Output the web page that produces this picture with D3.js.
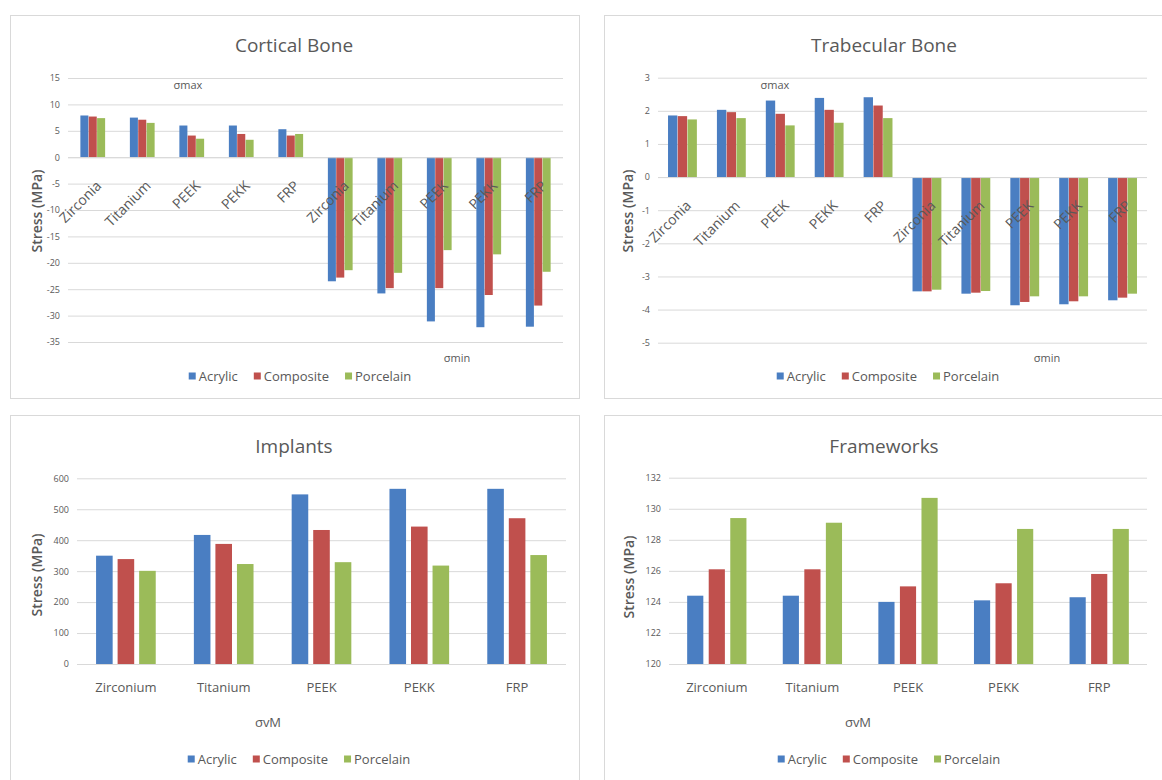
<!DOCTYPE html>
<html>
<head>
<meta charset="utf-8">
<script src="https://cdn.jsdelivr.net/npm/d3@7"></script>
<style>
  html, body { margin: 0; padding: 0; background: #ffffff; }
  svg { display: block; font-family: "Open Sans", "Liberation Sans", sans-serif; }
</style>
</head>
<body>
<svg id="chart" width="1162" height="780"></svg>
<script>
// Materials and restoration series
const seriesNames = ["Acrylic", "Composite", "Porcelain"];
const seriesColors = ["#4A7EC2", "#C0504D", "#9BBB59"];

const boneMaterials = ["Zirconia", "Titanium", "PEEK", "PEKK", "FRP"];
const boneCategories = [...boneMaterials, ...boneMaterials]; // σmax group then σmin group
const implantMaterials = ["Zirconium", "Titanium", "PEEK", "PEKK", "FRP"];

// Cortical bone stress (MPa): first five σmax, last five σmin
const corticalAcrylic   = [7.9, 7.5, 6.0, 6.0, 5.3, -23.5, -25.8, -31.1, -32.2, -32.1];
const corticalComposite = [7.7, 7.1, 4.1, 4.4, 4.1, -22.8, -24.8, -24.8, -26.1, -28.1];
const corticalPorcelain = [7.4, 6.5, 3.5, 3.3, 4.4, -21.4, -21.9, -17.6, -18.4, -21.7];
const corticalTicks = [15, 10, 5, 0, -5, -10, -15, -20, -25, -30, -35];

// Trabecular bone stress (MPa)
const trabecularAcrylic   = [1.86, 2.03, 2.31, 2.39, 2.41, -3.45, -3.52, -3.87, -3.84, -3.72];
const trabecularComposite = [1.84, 1.96, 1.91, 2.03, 2.16, -3.45, -3.49, -3.77, -3.75, -3.64];
const trabecularPorcelain = [1.74, 1.78, 1.56, 1.64, 1.78, -3.40, -3.44, -3.60, -3.60, -3.52];
const trabecularTicks = [3, 2, 1, 0, -1, -2, -3, -4, -5];

// Implant von Mises stress (MPa)
const implantsAcrylic   = [350, 417, 548, 566, 566];
const implantsComposite = [339, 388, 433, 444, 471];
const implantsPorcelain = [301, 323, 329, 318, 352];
const implantsTicks = [0, 100, 200, 300, 400, 500, 600];

// Framework von Mises stress (MPa)
const frameworksAcrylic   = [124.4, 124.4, 124.0, 124.1, 124.3];
const frameworksComposite = [126.1, 126.1, 125.0, 125.2, 125.8];
const frameworksPorcelain = [129.4, 129.1, 130.7, 128.7, 128.7];
const frameworksTicks = [120, 122, 124, 126, 128, 130, 132];

const svg = d3.select("#chart");
const textColor = "#595959";
const gridColor = "#d9d9d9";

function drawPanel(cfg) {
  const g = svg.append("g");

  // panel frame
  g.append("rect")
    .attr("x", cfg.frame[0] + 0.5).attr("y", cfg.frame[1] + 0.5)
    .attr("width", cfg.frame[2] - cfg.frame[0]).attr("height", cfg.frame[3] - cfg.frame[1])
    .attr("fill", "#fff").attr("stroke", gridColor).attr("stroke-width", 1);

  const y = d3.scaleLinear().domain(cfg.domain).range([cfg.plotBottom, cfg.plotTop]);
  const x0 = d3.scaleBand()
    .domain(d3.range(cfg.categories.length))
    .range([cfg.plotLeft, cfg.plotRight])
    .paddingInner(cfg.groupPad).paddingOuter(cfg.groupPad / 2);
  const x1 = d3.scaleBand()
    .domain(seriesNames)
    .range([0, x0.bandwidth()])
    .paddingInner(cfg.barPad);

  // gridlines and tick labels
  const yAxis = d3.axisLeft(y)
    .tickValues(cfg.ticks)
    .tickSize(-(cfg.plotRight - cfg.plotLeft))
    .tickPadding(8)
    .tickFormat(d => String(d));
  const ax = g.append("g")
    .attr("transform", `translate(${cfg.plotLeft},0)`)
    .call(yAxis);
  ax.select(".domain").remove();
  ax.selectAll(".tick line").attr("stroke", gridColor).attr("stroke-width", 1);
  ax.selectAll(".tick text")
    .attr("fill", textColor).attr("font-size", 9).attr("font-family", "Open Sans, sans-serif");

  // bars
  const base = cfg.baseline;
  cfg.series.forEach((vals, si) => {
    g.append("g").selectAll("rect")
      .data(vals)
      .join("rect")
      .attr("x", (d, i) => x0(i) + x1(seriesNames[si]))
      .attr("width", x1.bandwidth())
      .attr("y", d => Math.min(y(d), y(base)))
      .attr("height", d => Math.abs(y(d) - y(base)))
      .attr("fill", seriesColors[si]);
  });

  // category axis line
  g.append("line")
    .attr("x1", cfg.plotLeft).attr("x2", cfg.plotRight)
    .attr("y1", y(base) + 0.5).attr("y2", y(base) + 0.5)
    .attr("stroke", gridColor);

  // category labels
  const cl = g.append("g").selectAll("text")
    .data(cfg.categories)
    .join("text")
    .attr("fill", textColor)
    .attr("font-size", 13)
    .text(d => d);
  if (cfg.rotateLabels) {
    cl.attr("text-anchor", "end")
      .attr("dy", "0.35em")
      .attr("font-size", 14)
      .attr("transform", (d, i) => {
        const cx = x0(i) + x0.bandwidth() / 2 + 6;
        const cy = y(base) + 26;
        return `translate(${cx},${cy}) rotate(-45)`;
      });
  } else {
    cl.attr("text-anchor", "middle")
      .attr("x", (d, i) => x0(i) + x0.bandwidth() / 2)
      .attr("y", cfg.labelY);
  }

  // title
  g.append("text")
    .attr("x", cfg.titleX).attr("y", cfg.titleY)
    .attr("text-anchor", "middle")
    .attr("fill", textColor).attr("font-size", 19)
    .text(cfg.title);

  // value axis title
  g.append("text")
    .attr("transform", `translate(${cfg.yTitle[0]},${cfg.yTitle[1]}) rotate(-90)`)
    .attr("text-anchor", "middle").attr("dy", "0.35em")
    .attr("fill", textColor).attr("font-size", 14).attr("font-weight", 600)
    .text("Stress (MPa)");

  // extra axis captions (σmax, σmin, σvM)
  cfg.captions.forEach(c => {
    g.append("text")
      .attr("x", c.x).attr("y", c.y)
      .attr("text-anchor", "middle")
      .attr("fill", textColor).attr("font-size", c.size)
      .text(c.text);
  });

  // legend
  const items = seriesNames.map((s, i) => ({ name: s, color: seriesColors[i] }));
  const leg = g.append("g");
  let cursor = 0;
  items.forEach(it => {
    const t = leg.append("text")
      .attr("x", cursor + 10).attr("y", 0)
      .attr("dy", "0.35em")
      .attr("fill", textColor).attr("font-size", 13)
      .text(it.name);
    leg.append("rect")
      .attr("x", cursor).attr("y", -3.5)
      .attr("width", 7).attr("height", 7)
      .attr("fill", it.color);
    const w = t.node().getComputedTextLength();
    cursor += 10 + w + 16;
  });
  const total = cursor - 16;
  leg.attr("transform", `translate(${cfg.legendX - total / 2},${cfg.legendY})`);
}

// Cortical bone
drawPanel({
  title: "Cortical Bone",
  frame: [10, 15, 579, 398],
  plotLeft: 68, plotRight: 563, plotTop: 78, plotBottom: 342,
  domain: [-35, 15], ticks: corticalTicks, baseline: 0,
  categories: boneCategories, rotateLabels: true,
  groupPad: 0.5, barPad: 0.04,
  series: [corticalAcrylic, corticalComposite, corticalPorcelain],
  titleX: 294, titleY: 52, yTitle: [37, 211],
  captions: [
    { text: "σmax", x: 188, y: 89, size: 11 },
    { text: "σmin", x: 457, y: 362, size: 11 }
  ],
  legendX: 300, legendY: 376
});

// Trabecular bone
drawPanel({
  title: "Trabecular Bone",
  frame: [604, 15, 1170, 398],
  plotLeft: 658, plotRight: 1147, plotTop: 77.7, plotBottom: 342.7,
  domain: [-5, 3], ticks: trabecularTicks, baseline: 0,
  categories: boneCategories, rotateLabels: true,
  groupPad: 0.41, barPad: 0.04,
  series: [trabecularAcrylic, trabecularComposite, trabecularPorcelain],
  titleX: 884, titleY: 52, yTitle: [628, 211],
  captions: [
    { text: "σmax", x: 775, y: 89, size: 11 },
    { text: "σmin", x: 1047, y: 362, size: 11 }
  ],
  legendX: 888, legendY: 376
});

// Implants
drawPanel({
  title: "Implants",
  frame: [10, 415, 579, 790],
  plotLeft: 77, plotRight: 566, plotTop: 478.3, plotBottom: 664,
  domain: [0, 600], ticks: implantsTicks, baseline: 0,
  categories: implantMaterials, rotateLabels: false, labelY: 692,
  groupPad: 0.39, barPad: 0.23,
  series: [implantsAcrylic, implantsComposite, implantsPorcelain],
  titleX: 294, titleY: 453, yTitle: [37, 575],
  captions: [{ text: "σvM", x: 268, y: 727, size: 13 }],
  legendX: 299, legendY: 759
});

// Frameworks
drawPanel({
  title: "Frameworks",
  frame: [604, 415, 1170, 790],
  plotLeft: 669, plotRight: 1147, plotTop: 477.7, plotBottom: 664,
  domain: [120, 132], ticks: frameworksTicks, baseline: 120,
  categories: implantMaterials, rotateLabels: false, labelY: 692,
  groupPad: 0.38, barPad: 0.25,
  series: [frameworksAcrylic, frameworksComposite, frameworksPorcelain],
  titleX: 884, titleY: 453, yTitle: [629, 577],
  captions: [{ text: "σvM", x: 858, y: 727, size: 13 }],
  legendX: 889, legendY: 759
});
</script>
</body>
</html>
